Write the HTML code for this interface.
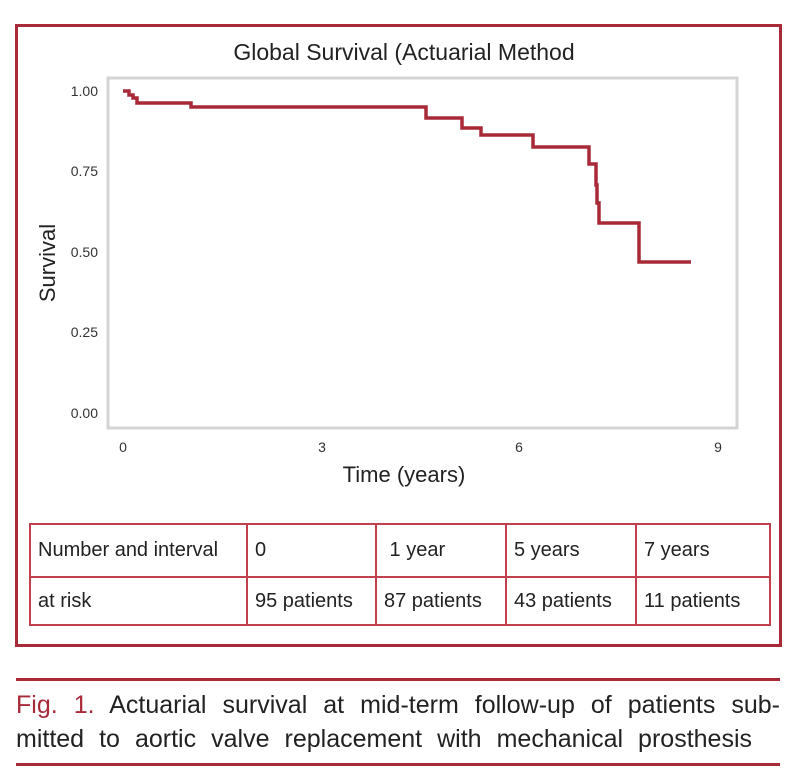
<!DOCTYPE html>
<html><head><meta charset="utf-8"><style>
body{margin:0;background:#fff;width:810px;height:778px;position:relative;overflow:hidden;font-family:"Liberation Sans",sans-serif;}
.box{position:absolute;left:15px;top:24px;width:761px;height:617px;border:3px solid #a82a38;}
svg{position:absolute;left:0;top:0}
table{position:absolute;left:29px;top:523px;border-collapse:collapse;font-size:20px;color:#222}
td{border:2px solid #c0404e;padding:0 0 0 7px;vertical-align:middle;box-sizing:border-box}
.cap{position:absolute;left:16px;width:764px;font-size:25px;color:#222;line-height:34px;top:688px;white-space:nowrap}
.l{display:block;text-align:justify;text-align-last:justify}
.cap b{color:#a82a38;font-weight:normal}
.rule{position:absolute;left:16px;width:764px;height:3px;background:#a82a38}
</style></head><body>
<div class="box"></div>
<svg width="810" height="520">
<text x="404" y="60" font-size="23" text-anchor="middle" fill="#222">Global Survival (Actuarial Method</text>
<rect x="108" y="78" width="629" height="350" fill="none" stroke="#d4d4d4" stroke-width="3"/>
<g font-size="14" fill="#333" text-anchor="end">
<text x="98" y="96">1.00</text><text x="98" y="176">0.75</text><text x="98" y="257">0.50</text><text x="98" y="337">0.25</text><text x="98" y="418">0.00</text>
</g>
<g font-size="14" fill="#333" text-anchor="middle">
<text x="123" y="452">0</text><text x="322" y="452">3</text><text x="519" y="452">6</text><text x="718" y="452">9</text>
</g>
<text x="404" y="482" font-size="22" text-anchor="middle" fill="#222">Time (years)</text>
<text transform="translate(55,263) rotate(-90)" font-size="22" text-anchor="middle" fill="#222">Survival</text>
<polyline fill="none" stroke="#a82a38" stroke-width="3.5" points="123,91 129,91 129,95 133,95 133,98 137,98 137,103 191,103 191,107 426,107 426,118 462,118 462,128 481,128 481,135 533,135 533,147 589,147 589,164 596,164 596,185 597,185 597,203 599,203 599,223 639,223 639,262 691,262"/>
</svg>
<table>
<tr style="height:53px"><td style="width:217px">Number and interval</td><td style="width:129px">0</td><td style="width:130px">&nbsp;1 year</td><td style="width:130px">5 years</td><td style="width:134px">7 years</td></tr>
<tr style="height:48px"><td>at risk</td><td>95 patients</td><td>87 patients</td><td>43 patients</td><td>11 patients</td></tr>
</table>
<div class="rule" style="top:678px"></div>
<div class="cap"><span class="l"><b>Fig. 1.</b> Actuarial survival at mid-term follow-up of patients sub-</span><span class="l" style="width:736px">mitted to aortic valve replacement with mechanical prosthesis</span></div>
<div class="rule" style="top:763px"></div>
</body></html>
